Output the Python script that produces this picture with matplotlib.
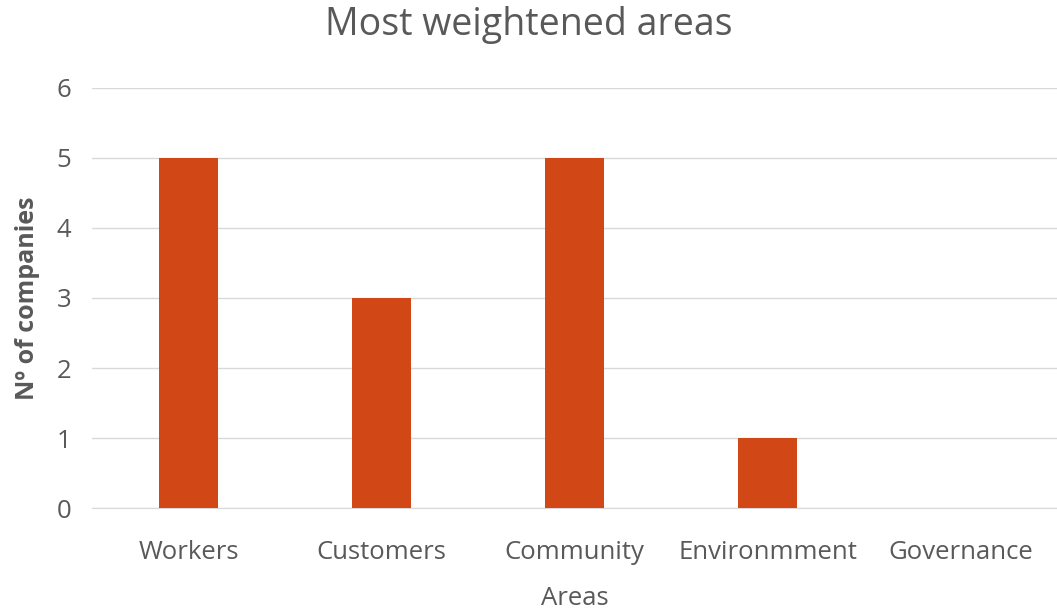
import matplotlib.pyplot as plt

plt.rcParams['font.family'] = ['Open Sans', 'DejaVu Sans']

areas = ['Workers', 'Customers', 'Community', 'Environmment', 'Governance']
companies = [5, 3, 5, 1, 0]

bar_color = '#D24716'
text_color = '#595959'

fig = plt.figure(figsize=(10.57, 6.10), dpi=100)
ax = fig.add_axes([0.087, 0.167, 0.913, 0.689])

x = range(len(areas))
ax.bar(x, companies, width=0.31, color=bar_color, zorder=3)

ax.set_xlim(-0.5, len(areas) - 0.5)
ax.set_ylim(0, 6)
ax.set_yticks(range(0, 7))
ax.set_xticks(list(x))
ax.set_xticklabels(areas)

ax.grid(axis='y', color='#D9D9D9', linewidth=1, zorder=0)
for s in ['top', 'right', 'left']:
    ax.spines[s].set_visible(False)
ax.spines['bottom'].set_color('#D9D9D9')
ax.tick_params(axis='both', length=0, labelsize=18.5, colors=text_color)
ax.tick_params(axis='x', pad=23)
ax.tick_params(axis='y', pad=15)

ax.set_xlabel('Areas', fontsize=18.5, color=text_color, labelpad=15)
ax.set_ylabel('Nº of companies', fontsize=18, color=text_color,
              fontweight='bold', labelpad=12)
fig.text(0.5, 0.959, 'Most weightened areas', fontsize=27, color=text_color,
         ha='center', va='center')

fig.savefig('out.png', dpi=100)
